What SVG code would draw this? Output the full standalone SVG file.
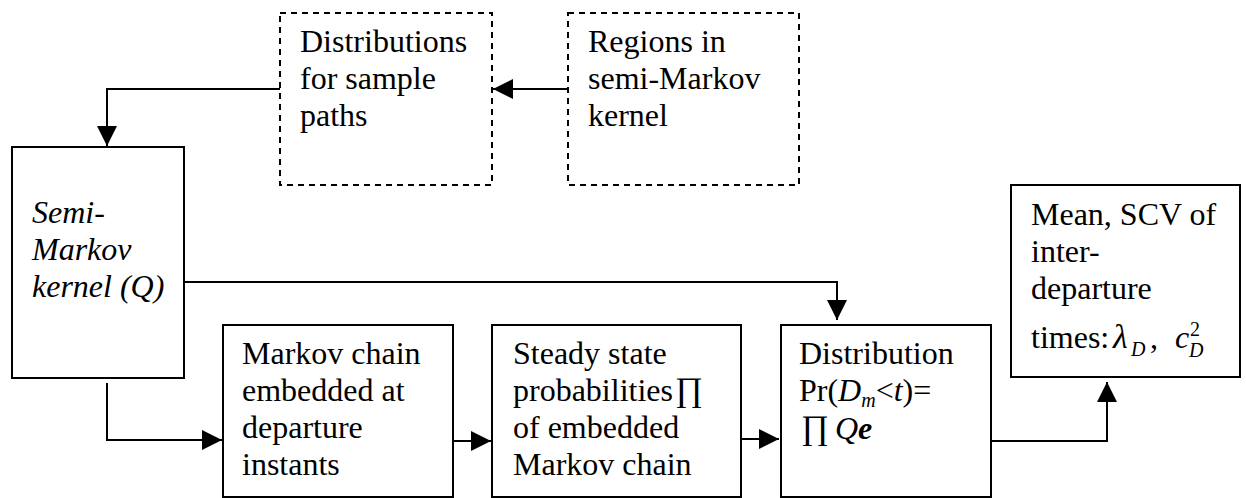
<svg xmlns="http://www.w3.org/2000/svg" width="1246" height="498" viewBox="0 0 1246 498">
<style>
.box{fill:#fff;stroke:#000;stroke-width:2}
.dash{fill:#fff;stroke:#000;stroke-width:2;stroke-dasharray:6 5}
.t{font-family:"Liberation Serif","Times New Roman",serif;font-size:32px;fill:#000}
.s{font-size:20px}
.i{font-style:italic}
.b{font-weight:bold}
.c{fill:none;stroke:#000;stroke-width:2}
</style>
<defs>
<marker id="ah" markerUnits="userSpaceOnUse" markerWidth="20" markerHeight="20" refX="20" refY="10" orient="auto">
<path d="M0,0 L20,10 L0,20 z" fill="#000"/>
</marker>
</defs>
<rect width="1246" height="498" fill="#fff"/>
<g id="connectors">
<path class="c" d="M568,89 H493" marker-end="url(#ah)"/>
<path class="c" d="M280,89 H107 V146" marker-end="url(#ah)"/>
<path class="c" d="M184,282 H837 V320" marker-end="url(#ah)"/>
<path class="c" d="M107,383 V440 H222" marker-end="url(#ah)"/>
<path class="c" d="M453,441 H491" marker-end="url(#ah)"/>
<path class="c" d="M741,439 H779" marker-end="url(#ah)"/>
<path class="c" d="M991,441 H1107 V382" marker-end="url(#ah)"/>
</g>
<g id="n-distributions">
<rect class="dash" x="280" y="13" width="212" height="172"/>
<text class="t" x="300" y="52">Distributions</text>
<text class="t" x="300" y="89">for sample</text>
<text class="t" x="300" y="126">paths</text>
</g>
<g id="n-regions">
<rect class="dash" x="568" y="13" width="231" height="172"/>
<text class="t" x="588" y="52">Regions in</text>
<text class="t" x="588" y="89">semi-Markov</text>
<text class="t" x="588" y="126">kernel</text>
</g>
<g id="n-semi">
<rect class="box" x="12" y="147" width="172" height="231"/>
<text class="t i" x="32" y="223">Semi-</text>
<text class="t i" x="32" y="260">Markov</text>
<text class="t i" x="32" y="297">kernel (Q)</text>
</g>
<g id="n-markov">
<rect class="box" x="223" y="325" width="230" height="172"/>
<text class="t" x="242" y="364">Markov chain</text>
<text class="t" x="242" y="401">embedded at</text>
<text class="t" x="242" y="438">departure</text>
<text class="t" x="242" y="475">instants</text>
</g>
<g id="n-steady">
<rect class="box" x="492" y="325" width="249" height="172"/>
<text class="t" x="513" y="364">Steady state</text>
<text class="t" x="513" y="401">probabilities<tspan dx="2" style="font-size:34px">∏</tspan></text>
<text class="t" x="513" y="438">of embedded</text>
<text class="t" x="513" y="475">Markov chain</text>
</g>
<g id="n-distribution">
<rect class="box" x="781" y="325" width="210" height="172"/>
<text class="t" x="799" y="364">Distribution</text>
<text class="t" x="799" y="401">Pr(<tspan class="i">D</tspan><tspan class="i s" dy="6">m</tspan><tspan dy="-6">&lt;</tspan><tspan class="i">t</tspan>)=</text>
<text class="t" x="801" y="439"><tspan style="font-size:34px">∏</tspan><tspan class="i" dx="6">Q</tspan><tspan class="i b">e</tspan></text>
</g>
<g id="n-mean">
<rect class="box" x="1011" y="185" width="229" height="192"/>
<text class="t" x="1031" y="225">Mean, SCV of</text>
<text class="t" x="1031" y="262">inter-</text>
<text class="t" x="1031" y="299">departure</text>
<text class="t" x="1031" y="348">times:</text>
<text class="t i" x="1113" y="348" style="font-size:34px">λ</text>
<text class="t i s" x="1131" y="356">D</text>
<text class="t" x="1150" y="348">,</text>
<text class="t i" x="1175" y="348">c</text>
<text class="t s" x="1190" y="336">2</text>
<text class="t i s" x="1189" y="357">D</text>
</g>
</svg>
